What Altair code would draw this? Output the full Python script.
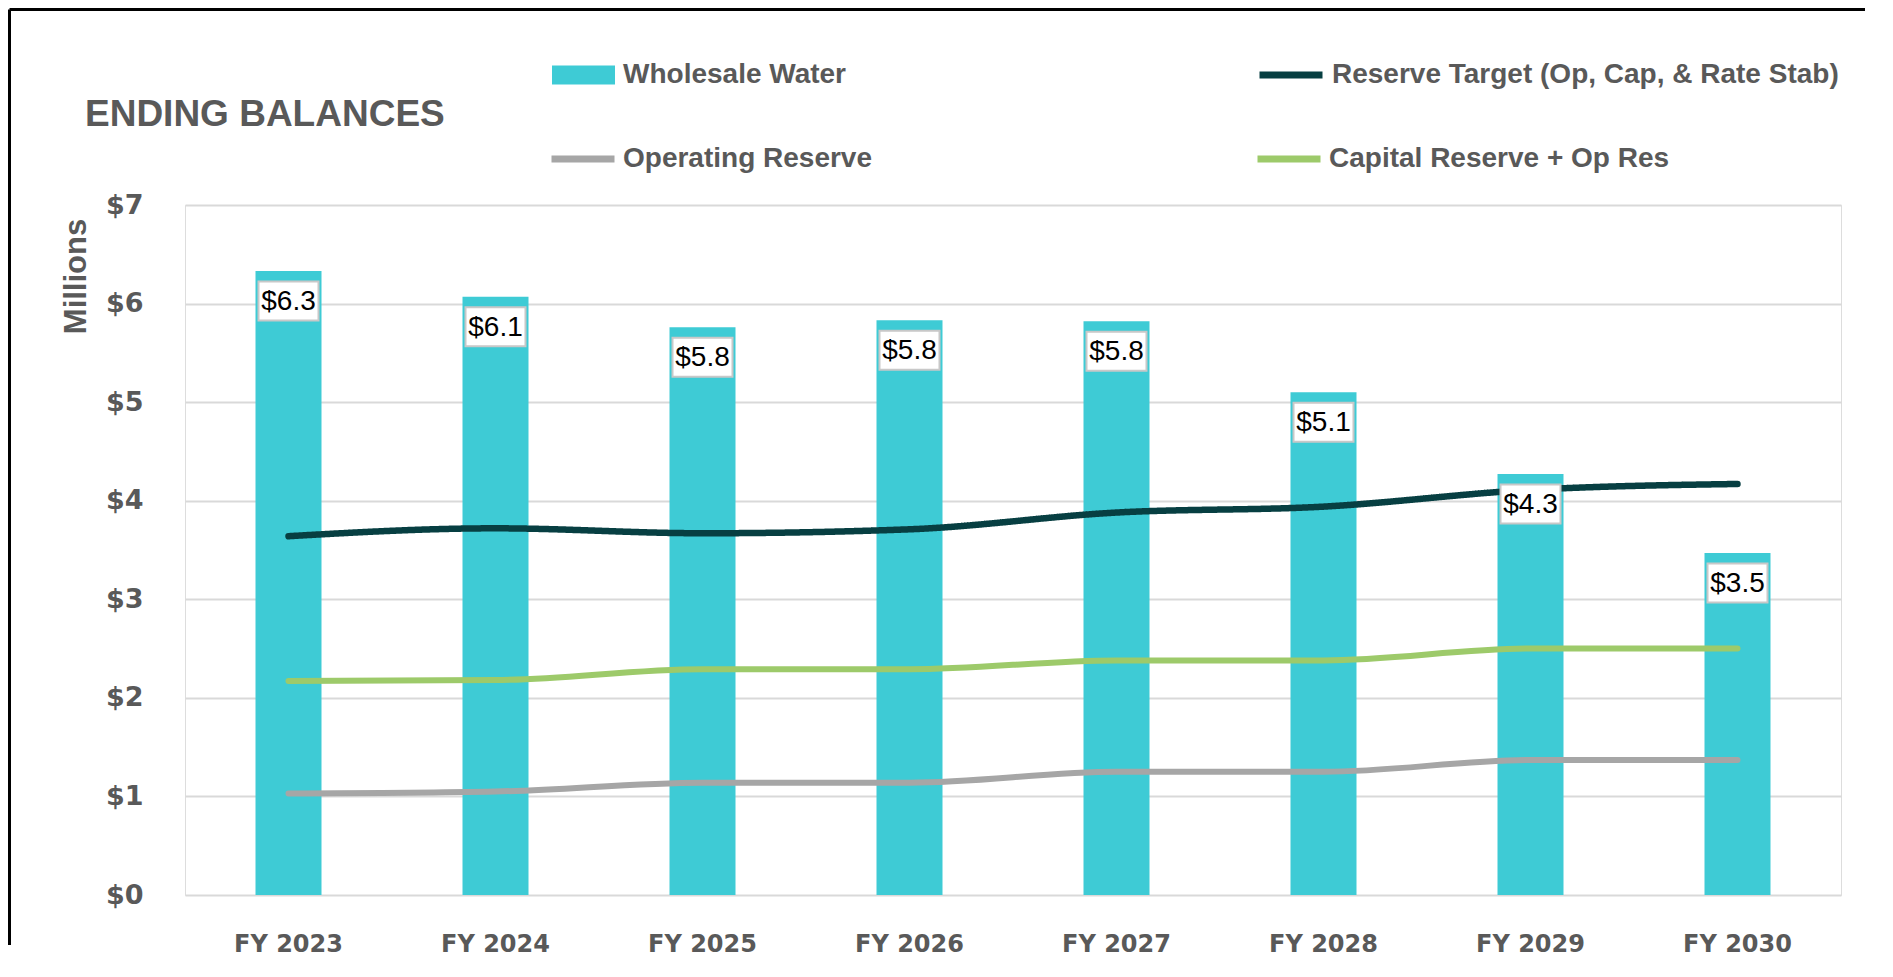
import altair as alt
import pandas as pd

years = ["FY 2023", "FY 2024", "FY 2025", "FY 2026", "FY 2027", "FY 2028", "FY 2029", "FY 2030"]
wholesale_water = [6.33, 6.07, 5.76, 5.83, 5.82, 5.10, 4.27, 3.47]
reserve_target = [3.64, 3.72, 3.67, 3.71, 3.88, 3.94, 4.11, 4.17]
operating_reserve = [1.03, 1.05, 1.14, 1.14, 1.25, 1.25, 1.37, 1.37]
capital_reserve = [2.17, 2.18, 2.29, 2.29, 2.38, 2.38, 2.50, 2.50]

S_BAR = "Wholesale Water"
S_RT = "Reserve Target (Op, Cap, & Rate Stab)"
S_OP = "Operating Reserve"
S_CAP = "Capital Reserve + Op Res"
C_BAR, C_RT, C_OP, C_CAP = "#3ecbd5", "#073f42", "#a6a6a6", "#9dca6a"

W, H = 1656, 690
GREY = "#595959"

bars = pd.DataFrame({"year": years, "value": wholesale_water, "bar_series": S_BAR})
target = pd.DataFrame({"year": years, "value": reserve_target, "target_series": S_RT})
reserves = pd.concat([
    pd.DataFrame({"year": years, "value": operating_reserve, "res_series": S_OP}),
    pd.DataFrame({"year": years, "value": capital_reserve, "res_series": S_CAP}),
])

leg_common = dict(title=None, orient="none", labelFont="Liberation Sans", labelFontSize=28,
                  labelFontWeight="bold", labelColor=GREY, labelLimit=0,
                  symbolSize=3969, padding=0)

x_enc = alt.X("year:N", sort=years, scale=alt.Scale(paddingInner=0, paddingOuter=0),
              axis=alt.Axis(title=None, labelAngle=0, labelFont="DejaVu Sans", labelFontSize=24,
                            labelFontWeight="bold", labelColor=GREY, labelPadding=37,
                            ticks=False, domain=False, grid=False))
y_scale = alt.Scale(domain=[0, 7], nice=False)

bar_layer = alt.Chart(bars).mark_bar(width=66).encode(
    x=x_enc,
    y=alt.Y("value:Q", scale=y_scale,
            axis=alt.Axis(values=[0, 1, 2, 3, 4, 5, 6, 7], format="$.0f",
                          labelFont="DejaVu Sans", labelFontSize=27, labelFontWeight="bold",
                          labelColor=GREY, labelPadding=42, ticks=False, domain=False,
                          gridColor="#d9d9d9", gridWidth=2,
                          title="Millions", titleFont="Liberation Sans", titleFontSize=31,
                          titleFontWeight="bold", titleColor=GREY, titleX=-109, titleY=71,
                          titleAngle=-90, titleAlign="center", titleBaseline="middle")),
    fill=alt.Fill("bar_series:N", scale=alt.Scale(domain=[S_BAR], range=[C_BAR]),
                  legend=alt.Legend(legendX=367, legendY=-161.5, symbolType="M-1,-0.3H1V0.3H-1Z",
                                    symbolStrokeWidth=0, symbolOpacity=1, labelOffset=8,
                                    **leg_common)),
)

target_layer = alt.Chart(target).mark_line(
    color=C_RT, strokeWidth=6.5, strokeCap="round", interpolate="monotone"
).encode(
    x=alt.X("year:N", sort=years),
    y=alt.Y("value:Q"),
    strokeDash=alt.StrokeDash("target_series:N", scale=alt.Scale(domain=[S_RT], range=[[1, 0]]),
                              legend=alt.Legend(legendX=1071, legendY=-165, symbolType="stroke",
                                                symbolStrokeColor=C_RT, symbolStrokeWidth=7,
                                                labelOffset=6, **leg_common)),
)

res_layer = alt.Chart(reserves).mark_line(
    strokeWidth=6, strokeCap="round", interpolate="monotone"
).encode(
    x=alt.X("year:N", sort=years),
    y=alt.Y("value:Q"),
    stroke=alt.Stroke("res_series:N", sort=[S_OP, S_CAP],
                      scale=alt.Scale(domain=[S_OP, S_CAP], range=[C_OP, C_CAP]),
                      legend=alt.Legend(legendX=363, legendY=-81, columns=2, columnPadding=371,
                                        symbolType="stroke", symbolStrokeWidth=7, labelOffset=5,
                                        **leg_common)),
)

label_base = alt.Chart(bars).transform_calculate(
    label="'$' + format(datum.value, '.1f')"
).encode(x=alt.X("year:N", sort=years), y=alt.Y("value:Q"))

box_layer = label_base.mark_point(
    shape="M-1,-0.65H1V0.65H-1Z", size=3600, filled=True, fill="white",
    stroke="#c8c8c8", strokeWidth=2, opacity=1, yOffset=30,
)
text_layer = label_base.mark_text(
    font="Liberation Sans", fontSize=28, color="black", yOffset=31,
    align="center", baseline="middle",
).encode(text="label:N")

frame = pd.DataFrame({"k": [0]})
frame_v = alt.Chart(frame).mark_rule(color="black", strokeWidth=3).encode(
    x=alt.value(-175.5), y=alt.value(-195.5), y2=alt.value(H + 50))
frame_h = alt.Chart(frame).mark_rule(color="black", strokeWidth=3).encode(
    x=alt.value(-175.5), x2=alt.value(W + 24), y=alt.value(-195.5))

chart = alt.layer(
    bar_layer, target_layer, res_layer, box_layer, text_layer, frame_v, frame_h
).resolve_legend(fill="independent", stroke="independent", strokeDash="independent").properties(
    width=W, height=H, padding=0,
    title=alt.TitleParams("ENDING BALANCES", anchor="start", frame="group", dx=-100, dy=155,
                          offset=0, font="Liberation Sans", fontSize=37, fontWeight="bold",
                          color=GREY, baseline="alphabetic"),
).configure_view(stroke=None).configure(background="white")

chart.save("out.html", embed_options={"renderer": "svg", "actions": False})
